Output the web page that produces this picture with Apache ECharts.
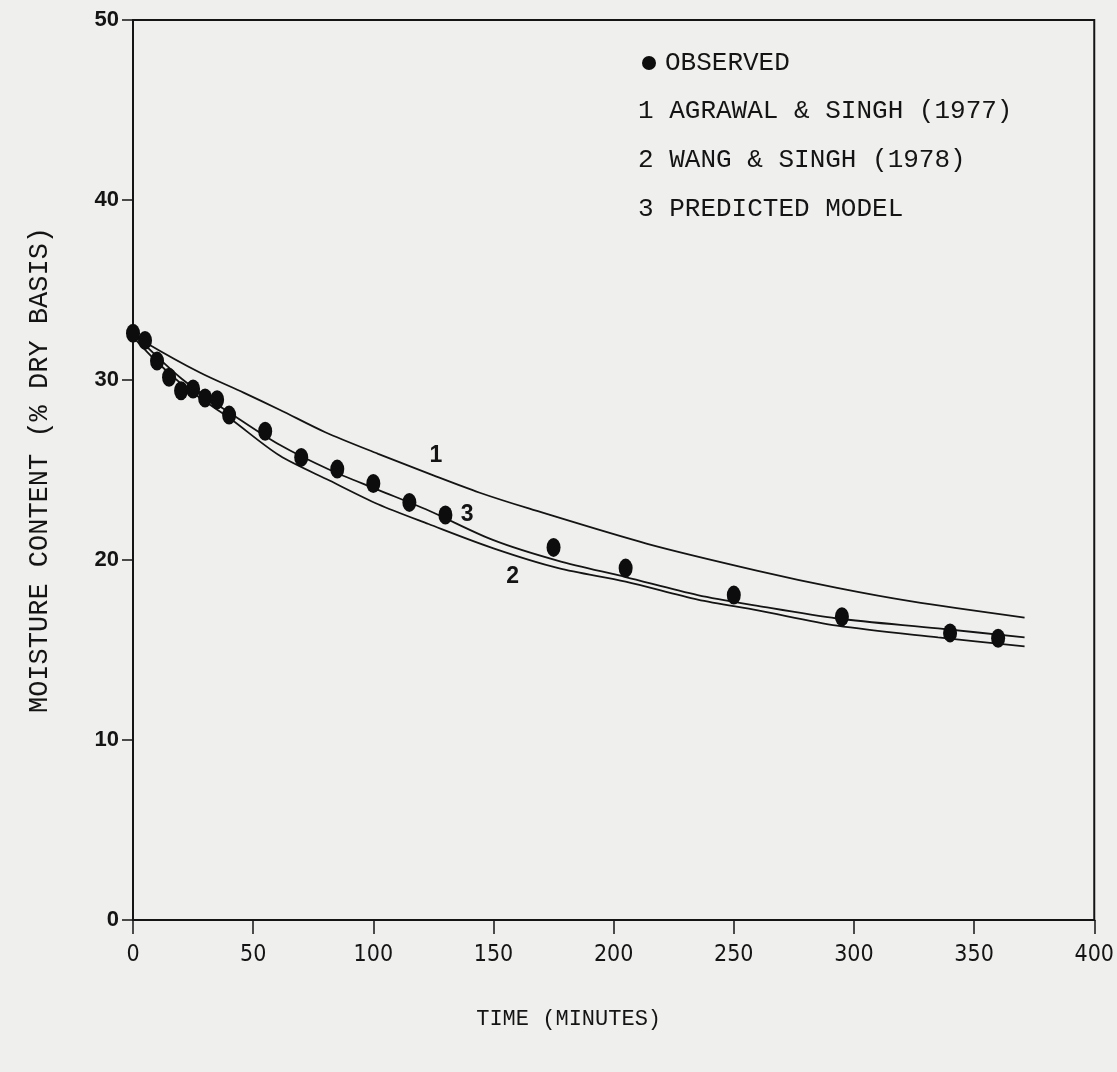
<!DOCTYPE html>
<html>
<head>
<meta charset="utf-8">
<script src="https://cdn.jsdelivr.net/npm/echarts@6/dist/echarts.min.js"></script>
<style>
html,body{margin:0;padding:0;background:#efefed;}
#chart{width:1117px;height:1072px;}
</style>
</head>
<body>
<div id="chart"></div>
<script>
// ---- data ----
const xTicks = [0, 50, 100, 150, 200, 250, 300, 350, 400];
const yTicks = [0, 10, 20, 30, 40, 50];

const observedTime = [0, 5, 10, 15, 20, 25, 30, 35, 40, 55, 70, 85, 100, 115, 130, 175, 205, 250, 295, 340, 360];
const observedMoisture = [32.6, 32.2, 31.05, 30.15, 29.4, 29.5, 29.0, 28.9, 28.05, 27.15, 25.7, 25.05, 24.25, 23.2, 22.5, 20.7, 19.55, 18.05, 16.85, 15.95, 15.65];

const agrawalTime = [0, 5, 28, 46, 61, 80, 102, 125, 144, 165, 214, 260, 293, 324, 371];
const agrawalMoisture = [32.6, 32.1, 30.4, 29.3, 28.35, 27.1, 25.9, 24.7, 23.75, 22.85, 20.9, 19.4, 18.45, 17.7, 16.8];

const wangTime = [0, 10, 20, 30, 40, 61, 82, 102, 123, 150, 177, 205, 235, 260, 293, 335, 371];
const wangMoisture = [32.4, 31.0, 29.8, 28.8, 27.9, 25.8, 24.4, 23.1, 22.0, 20.65, 19.55, 18.8, 17.8, 17.2, 16.35, 15.7, 15.2];

const predictedTime = [0, 10, 20, 30, 40, 61, 82, 102, 123, 150, 177, 205, 235, 260, 293, 335, 371];
const predictedMoisture = [32.6, 31.3, 30.1, 29.1, 28.2, 26.4, 25.0, 23.9, 22.75, 21.1, 19.95, 19.05, 18.05, 17.45, 16.75, 16.2, 15.7];

const legendLabels = ['OBSERVED', '1 AGRAWAL & SINGH (1977)', '2 WANG & SINGH (1978)', '3 PREDICTED MODEL'];
const curveTags = [
  {name: '1', t: 126, m: 25.8},
  {name: '3', t: 139, m: 22.5},
  {name: '2', t: 158, m: 19.05}
];

const zip = (a, b) => a.map((v, i) => [v, b[i]]);
const ink = '#141414';
const mono = '"Liberation Mono", "DejaVu Sans Mono", monospace';

const chart = echarts.init(document.getElementById('chart'), null, {renderer: 'canvas'});

function tagPoint(tag) {
  return {
    coord: [tag.t, tag.m], symbol: 'circle', symbolSize: 0,
    label: {show: true, formatter: tag.name, position: 'inside', color: ink,
      fontFamily: '"Liberation Sans", Arial, sans-serif', fontSize: 23, fontWeight: 'bold'}
  };
}

function lineSeries(name, t, m, tags) {
  return {
    name: name, type: 'line', data: zip(t, m), smooth: 0.3, showSymbol: false, symbol: 'none',
    lineStyle: {color: ink, width: 1.8}, silent: true, z: 2,
    markPoint: {silent: true, data: tags.map(tagPoint)}
  };
}

const option = {
  backgroundColor: '#efefed',
  animation: false,
  grid: {left: 133, right: 21, top: 20, bottom: 152, show: true, borderColor: ink, borderWidth: 2, backgroundColor: 'transparent'},
  legend: {
    data: [{name: legendLabels[0], icon: 'circle'}],
    left: 637, top: 45, itemWidth: 14, itemHeight: 19, orient: 'vertical',
    textStyle: {fontFamily: mono, fontSize: 26, color: ink, padding: [0, 0, 0, 4]}
  },
  graphic: [1, 2, 3].map((k, i) => ({
    type: 'text', left: 638, top: 98 + i * 49,
    style: {text: legendLabels[k], font: '26px ' + mono, fill: ink}
  })),
  xAxis: {
    type: 'value', min: xTicks[0], max: xTicks[xTicks.length - 1], interval: 50,
    name: 'TIME (MINUTES)', nameLocation: 'middle', nameGap: 88,
    nameTextStyle: {fontFamily: mono, fontSize: 22, color: ink, padding: [0, 90, 0, 0]},
    axisLine: {show: true, lineStyle: {color: ink, width: 2}},
    axisTick: {show: true, inside: false, length: 14, lineStyle: {color: ink, width: 1.5}},
    axisLabel: {margin: 24, color: ink, fontSize: 23, fontFamily: '"DejaVu Sans Condensed", "Liberation Sans Narrow", "Liberation Sans", sans-serif'},
    splitLine: {show: false}
  },
  yAxis: {
    type: 'value', min: yTicks[0], max: yTicks[yTicks.length - 1], interval: 10,
    name: 'MOISTURE CONTENT (% DRY BASIS)', nameLocation: 'middle', nameGap: 80,
    nameTextStyle: {fontFamily: mono, fontSize: 27, color: ink},
    axisLine: {show: true, lineStyle: {color: ink, width: 2}},
    axisTick: {show: true, inside: false, length: 11, lineStyle: {color: ink, width: 1.5}},
    axisLabel: {margin: 14, color: ink, fontSize: 22, fontFamily: '"Liberation Sans", Arial, sans-serif', fontWeight: 'bold'},
    splitLine: {show: false}
  },
  series: [
    lineSeries('AGRAWAL & SINGH (1977)', agrawalTime, agrawalMoisture, [curveTags[0]]),
    lineSeries('WANG & SINGH (1978)', wangTime, wangMoisture, [curveTags[2]]),
    lineSeries('PREDICTED MODEL', predictedTime, predictedMoisture, [curveTags[1]]),
    {
      name: legendLabels[0], type: 'scatter', data: zip(observedTime, observedMoisture),
      symbol: 'circle', symbolSize: [14, 19], itemStyle: {color: '#0d0d0d', opacity: 1}, z: 5
    }
  ]
};
chart.setOption(option);
</script>
</body>
</html>
